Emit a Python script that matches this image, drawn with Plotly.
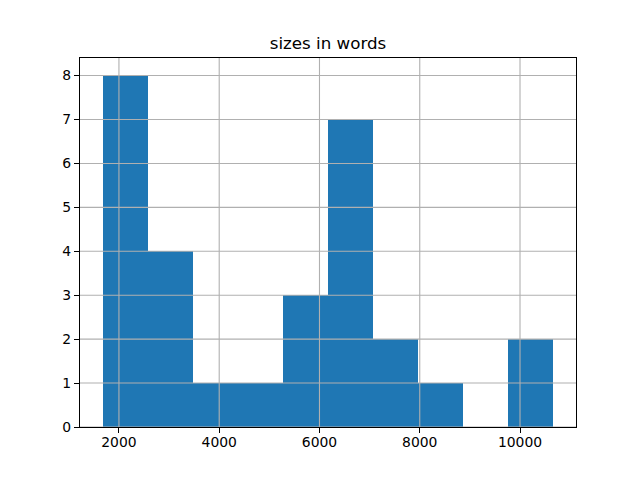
import plotly.graph_objects as go

bin_edges = [1673, 2572, 3472, 4371, 5271, 6170, 7069, 7969, 8868, 9768, 10667]
counts = [8, 4, 1, 1, 3, 7, 2, 1, 0, 2]
x_ticks = [2000, 4000, 6000, 8000, 10000]
y_ticks = [0, 1, 2, 3, 4, 5, 6, 7, 8]
title = "sizes in words"

lefts = bin_edges[:-1]
widths = [b - a for a, b in zip(bin_edges[:-1], bin_edges[1:])]

fig = go.Figure()
fig.add_trace(go.Bar(x=lefts, y=counts, width=widths, offset=0,
                     marker=dict(color="#1f77b4", line=dict(width=0)),
                     showlegend=False))

span = bin_edges[-1] - bin_edges[0]
xr = [bin_edges[0] - 0.05 * span, bin_edges[-1] + 0.05 * span]
yr = [0, max(counts) * 1.05]

grid = dict(color="#b0b0b0", width=1.1)
shapes = []
for t in x_ticks:
    shapes.append(dict(type="line", xref="x", yref="y domain", x0=t, x1=t, y0=0, y1=1,
                       line=grid, layer="above"))
for t in y_ticks:
    shapes.append(dict(type="line", xref="x domain", yref="y", x0=0, x1=1, y0=t, y1=t,
                       line=grid, layer="above"))

axis_common = dict(showline=True, mirror=True, linecolor="black", linewidth=1.1,
                   ticks="outside", ticklen=5, tickwidth=1.1, tickcolor="black",
                   showgrid=False, zeroline=False,
                   tickfont=dict(family="DejaVu Sans", size=13.9, color="black"))

fig.update_layout(
    width=640, height=480,
    margin=dict(l=72, r=72, t=50, b=61),
    paper_bgcolor="white", plot_bgcolor="white",
    bargap=0,
    title=dict(text=title, x=0.5, xanchor="center", xref="paper",
               y=1 - 41 / 480, yanchor="bottom",
               font=dict(family="DejaVu Sans", size=16.7, color="black")),
    xaxis=dict(range=xr, tickvals=x_ticks, ticktext=[str(t) for t in x_ticks],
               ticklabelstandoff=-3, **axis_common),
    yaxis=dict(range=yr, tickvals=y_ticks, ticktext=[str(t) for t in y_ticks], **axis_common),
    shapes=shapes,
)

fig.write_html("out.html")
